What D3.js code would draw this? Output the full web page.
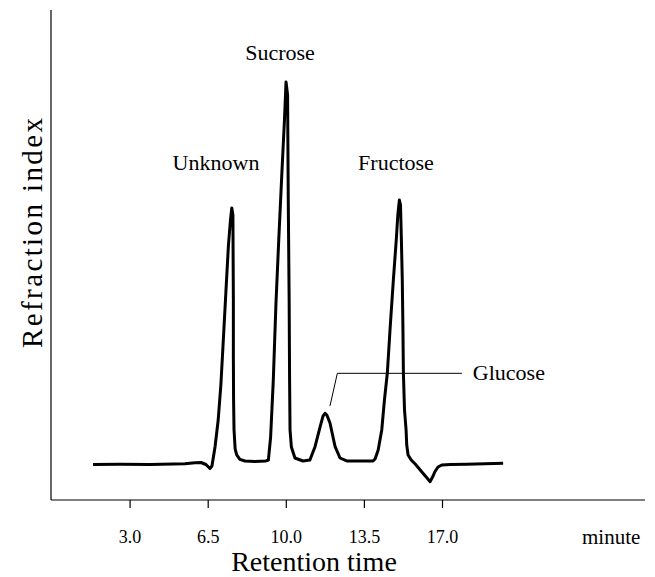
<!DOCTYPE html>
<html>
<head>
<meta charset="utf-8">
<script src="https://cdn.jsdelivr.net/npm/d3@7"></script>
<style>
  body { margin: 0; background: #fff; }
  svg text { font-family: "Liberation Serif", "Times New Roman", serif; fill: #000; }
</style>
</head>
<body>
<svg id="chart" width="655" height="577"></svg>
<script>
// retention time (minute) and detector signal (arbitrary units, sucrose peak = 100)
const times = [1.36, 2.57, 3.91, 5.48, 5.93, 6.20, 6.42, 6.60, 6.69, 6.83,
  6.97, 7.09, 7.20, 7.32, 7.43, 7.52, 7.58, 7.63, 7.64, 7.65,
  7.65, 7.66, 7.68, 7.73, 7.80, 7.94, 8.17, 8.61, 9.11, 9.22,
  9.32, 9.44, 9.56, 9.69, 9.83, 9.94, 10.01, 10.08, 10.11, 10.15,
  10.17, 10.19, 10.25, 10.41, 10.77, 11.08, 11.31, 11.54, 11.67, 11.76,
  11.84, 11.98, 12.21, 12.43, 12.73, 13.33, 13.91, 14.00, 14.14, 14.30,
  14.42, 14.55, 14.67, 14.82, 14.95, 15.02, 15.09, 15.14, 15.18, 15.22,
  15.25, 15.27, 15.32, 15.39, 15.42, 15.48, 15.62, 15.80, 16.09, 16.29,
  16.47, 16.60, 16.68, 16.82, 16.99, 17.37, 18.10, 18.93, 19.74]
const signal = [-0.13, -0.08, -0.13, 0.05, 0.31, 0.39, -0.13, -1.18, -0.52, 4.53,
  11.52, 20.68, 32.46, 45.55, 57.33, 63.87, 67.02, 65.18, 53.40, 42.93,
  28.01, 16.75, 8.90, 3.93, 2.36, 1.23, 0.79, 0.65, 0.79, 1.05,
  7.07, 21.99, 42.15, 59.42, 76.96, 90.05, 100, 96.6, 69.11, 42.93,
  21.99, 8.90, 4.45, 1.57, 0.79, 1.05, 4.53, 9.76, 12.57, 13.27,
  12.83, 10.73, 4.53, 1.57, 0.79, 0.79, 0.79, 1.31, 3.66, 8.90,
  16.75, 23.82, 35.08, 48.17, 58.64, 65.18, 69.11, 67.80, 58.64, 48.17,
  35.08, 23.82, 14.14, 8.90, 4.97, 2.36, 1.05, 0, -2.02, -3.40,
  -4.63, -3.14, -2.02, -0.79, -0.26, -0.13, -0.08, 0.05, 0.18]

const tickValues = [3.0, 6.5, 10.0, 13.5, 17.0]
const peakNames = ['Unknown', 'Sucrose', 'Fructose']
const glucoseName = 'Glucose'
// leader from glucose peak: [time, signal] corners
const glucoseLeader = [[11.98, 15.2], [12.31, 23.74], [17.89, 23.74]]

const svg = d3.select('#chart')

const x = d3.scaleLinear().domain([3, 17]).range([129.6, 442])
const y = d3.scaleLinear().domain([0, 100]).range([464, 82])

// frame: left and bottom axis lines
const left = 51
const bottom = 500
svg.append('line')
  .attr('x1', left).attr('x2', left).attr('y1', 10).attr('y2', bottom)
  .attr('stroke', '#000').attr('stroke-width', 1.2)
svg.append('line')
  .attr('x1', left).attr('x2', 645).attr('y1', bottom).attr('y2', bottom)
  .attr('stroke', '#000').attr('stroke-width', 1.2)

const xAxis = svg.append('g')
  .attr('transform', `translate(0,${bottom})`)
  .call(d3.axisBottom(x).tickValues(tickValues).tickSize(8).tickSizeOuter(0)
    .tickFormat(d3.format('.1f')))
xAxis.select('.domain').remove()
xAxis.selectAll('.tick line').attr('stroke', '#000').attr('stroke-width', 1.2)
xAxis.selectAll('.tick text')
  .attr('y', 43).attr('dy', 0)
  .attr('font-size', 18)
  .attr('font-family', '"Liberation Serif", serif')
  .attr('fill', '#000')

svg.append('text')
  .attr('x', 582).attr('y', 544)
  .attr('font-size', 21)
  .text('minute')

svg.append('text')
  .attr('x', 314).attr('y', 571)
  .attr('text-anchor', 'middle')
  .attr('font-size', 28)
  .text('Retention time')

svg.append('text')
  .attr('transform', 'translate(42,233) rotate(-90)')
  .attr('text-anchor', 'middle')
  .attr('font-size', 29)
  .attr('textLength', 230)
  .attr('lengthAdjust', 'spacing')
  .text('Refraction index')

// chromatogram trace
const line = d3.line()
  .x((d, i) => x(times[i]))
  .y(d => y(d))

svg.append('path')
  .datum(signal)
  .attr('d', line)
  .attr('fill', 'none')
  .attr('stroke', '#000')
  .attr('stroke-width', 3)
  .attr('stroke-linejoin', 'round')

// peak labels
const labelPos = [[216, 170], [280, 60], [396, 170]]
svg.selectAll('text.peak')
  .data(peakNames)
  .join('text')
  .attr('class', 'peak')
  .attr('x', (d, i) => labelPos[i][0])
  .attr('y', (d, i) => labelPos[i][1])
  .attr('text-anchor', 'middle')
  .attr('font-size', 22)
  .text(d => d)

// glucose leader line
const leader = d3.line().x(d => x(d[0])).y(d => y(d[1]))
svg.append('path')
  .attr('d', leader(glucoseLeader))
  .attr('fill', 'none')
  .attr('stroke', '#000')
  .attr('stroke-width', 1)
svg.append('text')
  .attr('x', x(glucoseLeader[2][0]) + 11).attr('y', y(glucoseLeader[2][1]) + 7)
  .attr('font-size', 22)
  .text(glucoseName)
</script>
</body>
</html>
